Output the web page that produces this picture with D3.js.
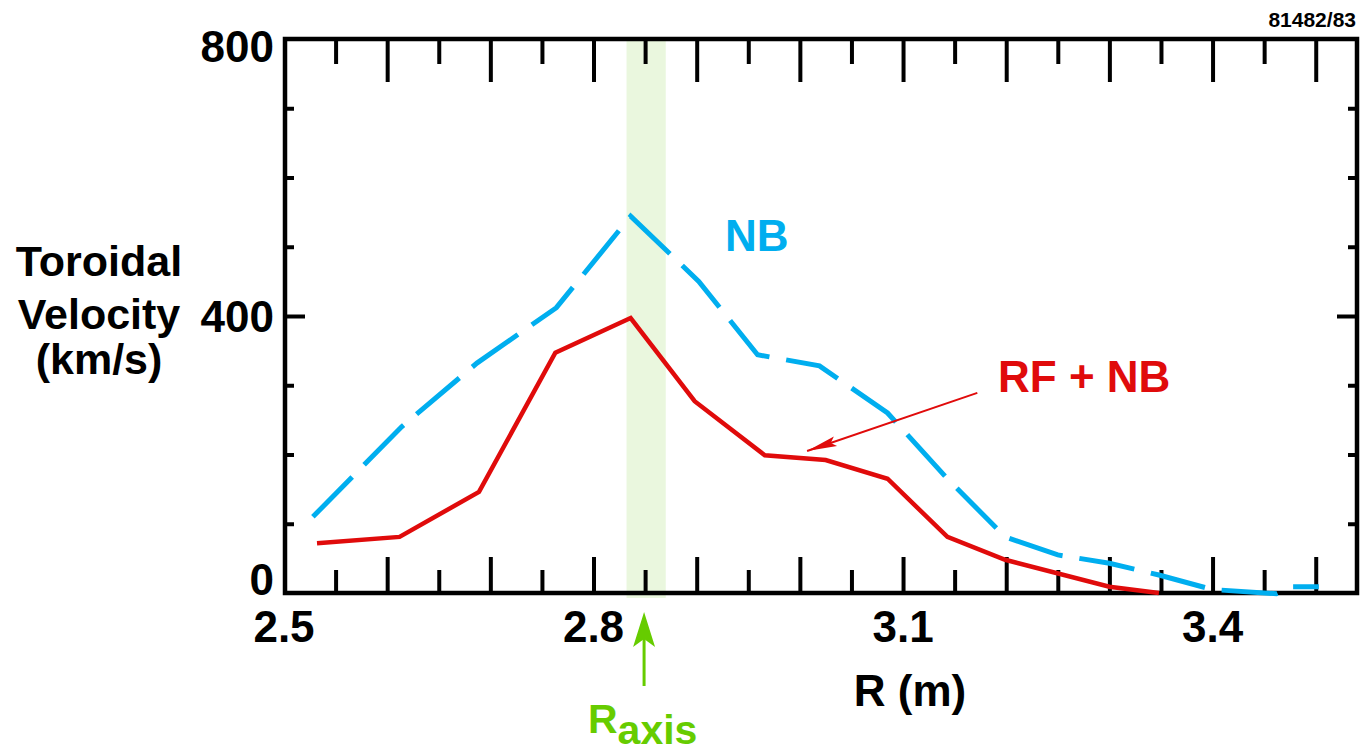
<!DOCTYPE html>
<html><head><meta charset="utf-8">
<script src="https://cdn.jsdelivr.net/npm/d3@7"></script>
<style>
body{margin:0;background:#fff}
svg{display:block}
text{font-family:"Liberation Sans",Arial,Helvetica,sans-serif;font-weight:bold}
</style>
</head><body>
<svg id="c" width="1360" height="752"></svg>
<script>
// ---- data ----
const rfR  = [2.532, 2.612, 2.689, 2.763, 2.836, 2.898, 2.966, 3.025, 3.085, 3.143, 3.199, 3.300, 3.348];
const rfV  = [72, 81, 146, 347, 397, 277, 199, 192, 165, 81, 48, 9, 0];
const nbR  = [2.528, 2.614, 2.687, 2.764, 2.836, 2.902, 2.959, 3.019, 3.085, 3.143, 3.199, 3.250, 3.300, 3.348, 3.400, 3.462, 3.478, 3.503];
const nbV  = [110, 240, 332, 412, 544, 450, 344, 328, 260, 165, 81, 55, 43, 26, 5, -1, 9, 9];
const xMajorTicks = [2.6, 2.7, 2.8, 2.9, 3.0, 3.1, 3.2, 3.3, 3.4, 3.5];
const xMinorTicks = [2.55, 2.65, 2.75, 2.85, 2.95, 3.05, 3.15, 3.25, 3.35, 3.45];
const xTickLabels = [2.5, 2.8, 3.1, 3.4];
const yMajorTicks = [400];
const yMinorTicks = [100, 200, 300, 500, 600, 700];
const yTickLabels = [0, 400, 800];
const rAxisBand = [2.832, 2.870];
const rAxisPos = 2.849;
const rfArrow = {from: [3.172, 289], to: [3.007, 205]};

const svg = d3.select("#c");
const L = 285, R = 1357, T = 39, B = 593;
const x = d3.scaleLinear().domain([2.5, 3.54]).range([284, 1357]);
const y = d3.scaleLinear().domain([0, 800]).range([B, T]);

svg.append("rect").attr("width", 1360).attr("height", 752).attr("fill", "#fff");

// R axis band
svg.append("rect")
  .attr("x", x(rAxisBand[0])).attr("y", T)
  .attr("width", x(rAxisBand[1]) - x(rAxisBand[0]))
  .attr("height", B - T + 5)
  .attr("fill", "#eaf7de");

// axes ticks
function styleAxis(g) {
  g.select(".domain").remove();
  g.selectAll(".tick line").attr("stroke", "#000").attr("stroke-width", 4);
  g.selectAll(".tick text").remove();
}
svg.append("g").attr("transform", `translate(0,${B})`)
  .call(d3.axisBottom(x).tickValues(xMajorTicks).tickSize(-36).tickFormat("")).call(styleAxis);
svg.append("g").attr("transform", `translate(0,${B})`)
  .call(d3.axisBottom(x).tickValues(xMinorTicks).tickSize(-23).tickFormat("")).call(styleAxis);
svg.append("g").attr("transform", `translate(0,${T})`)
  .call(d3.axisTop(x).tickValues(xMajorTicks).tickSize(-43).tickFormat("")).call(styleAxis);
svg.append("g").attr("transform", `translate(0,${T})`)
  .call(d3.axisTop(x).tickValues(xMinorTicks).tickSize(-25).tickFormat("")).call(styleAxis);
svg.append("g").attr("transform", `translate(${L},0)`)
  .call(d3.axisLeft(y).tickValues(yMajorTicks).tickSize(-20).tickFormat("")).call(styleAxis);
svg.append("g").attr("transform", `translate(${L},0)`)
  .call(d3.axisLeft(y).tickValues(yMinorTicks).tickSize(-9).tickFormat("")).call(styleAxis);
svg.append("g").attr("transform", `translate(${R},0)`)
  .call(d3.axisRight(y).tickValues(yMajorTicks).tickSize(-20).tickFormat("")).call(styleAxis);
svg.append("g").attr("transform", `translate(${R},0)`)
  .call(d3.axisRight(y).tickValues(yMinorTicks).tickSize(-9).tickFormat("")).call(styleAxis);

// frame
svg.append("rect").attr("x", L).attr("y", T).attr("width", R - L).attr("height", B - T)
  .attr("fill", "none").attr("stroke", "#000").attr("stroke-width", 4.5);

// lines
const line = d3.line().x(d => x(d[0])).y(d => y(d[1]));
svg.append("path").datum(nbR.map((r, i) => [r, nbV[i]]))
  .attr("d", line).attr("fill", "none").attr("stroke", "#00aeef")
  .attr("stroke-width", 5).attr("stroke-dasharray", "56,17").attr("stroke-linejoin", "miter");
svg.append("path").datum(rfR.map((r, i) => [r, rfV[i]]))
  .attr("d", line).attr("fill", "none").attr("stroke", "#e00b0b")
  .attr("stroke-width", 4.5).attr("stroke-linejoin", "miter");

// tick labels
svg.selectAll(".xl").data(xTickLabels).enter().append("text")
  .attr("x", d => x(d)).attr("y", 642).attr("text-anchor", "middle")
  .attr("font-size", 44).text(d => d.toFixed(1));
svg.selectAll(".yl").data(yTickLabels).enter().append("text")
  .attr("x", 274).attr("y", d => Math.max(62, Math.min(595, y(d) + 16)))
  .attr("text-anchor", "end").attr("font-size", 44).text(d => d);

// axis titles
const yt = svg.append("g").attr("font-size", 43).attr("text-anchor", "middle");
yt.append("text").attr("x", 99).attr("y", 276).text("Toroidal");
yt.append("text").attr("x", 99).attr("y", 329).text("Velocity");
yt.append("text").attr("x", 99).attr("y", 374).text("(km/s)");
svg.append("text").attr("x", 910).attr("y", 706).attr("text-anchor", "middle")
  .attr("font-size", 44).text("R (m)");

// shot number
svg.append("text").attr("x", 1356).attr("y", 27).attr("text-anchor", "end")
  .attr("font-size", 21).text("81482/83");

// series labels
svg.append("text").attr("x", 725).attr("y", 251).attr("font-size", 44)
  .attr("fill", "#00aeef").text("NB");
svg.append("text").attr("x", 998).attr("y", 392).attr("font-size", 44)
  .attr("fill", "#e00b0b").text("RF + NB");

// RF arrow
{
  const x1 = x(rfArrow.from[0]), y1 = y(rfArrow.from[1]);
  const x2 = x(rfArrow.to[0]), y2 = y(rfArrow.to[1]);
  const ang = Math.atan2(y2 - y1, x2 - x1) * 180 / Math.PI;
  svg.append("line").attr("x1", x1).attr("y1", y1).attr("x2", x2).attr("y2", y2)
    .attr("stroke", "#e00b0b").attr("stroke-width", 2);
  svg.append("path").attr("d", "M0,0 L-30,-5 L-25,0 L-30,5 Z")
    .attr("fill", "#e00b0b")
    .attr("transform", `translate(${x2},${y2}) rotate(${ang})`);
}

// R axis arrow & label
{
  const ax = x(rAxisPos);
  svg.append("line").attr("x1", ax).attr("x2", ax).attr("y1", 686).attr("y2", 630)
    .attr("stroke", "#66cc00").attr("stroke-width", 3);
  svg.append("path").attr("d", "M0,0 L-11,35 L0,27 L11,35 Z").attr("fill", "#66cc00")
    .attr("transform", `translate(${ax},612)`);
  const t = svg.append("text").attr("x", 588).attr("y", 733).attr("font-size", 41).attr("fill", "#66cc00");
  t.append("tspan").text("R");
  t.append("tspan").attr("dy", 11).text("axis");
}
</script>
</body></html>
